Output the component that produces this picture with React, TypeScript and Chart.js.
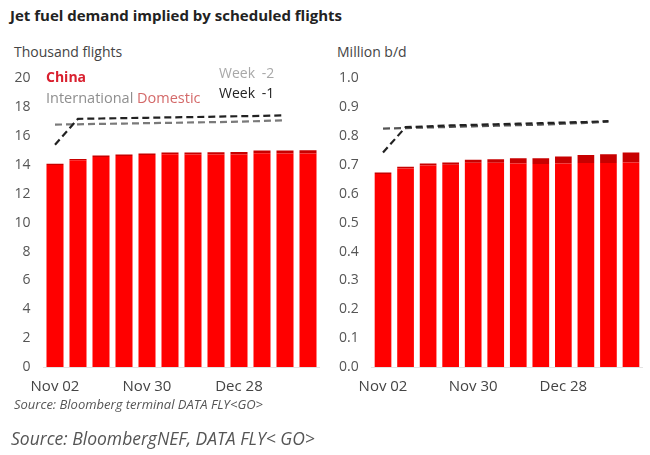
import React, { useEffect, useRef } from "react";
import { Chart, registerables } from "chart.js";

Chart.register(...registerables);

const categories = ["Nov 02", "Nov 09", "Nov 16", "Nov 23", "Nov 30", "Dec 07", "Dec 14", "Dec 21", "Dec 28", "Jan 04", "Jan 11", "Jan 18"];
const shownTicks = ["Nov 02", "Nov 30", "Dec 28"];

// Left panel: thousand flights
const flightsDomestic = [14.0, 14.33, 14.56, 14.63, 14.69, 14.74, 14.72, 14.73, 14.73, 14.81, 14.8, 14.8];
const flightsInternational = [0.08, 0.09, 0.1, 0.1, 0.11, 0.12, 0.14, 0.16, 0.17, 0.19, 0.2, 0.22];
const flightsWeekMinus1 = [15.4, 17.2, 17.22, 17.25, 17.27, 17.3, 17.32, 17.35, 17.38, 17.4, 17.45, null];
const flightsWeekMinus2 = [16.8, 16.82, 16.85, 16.87, 16.9, 16.92, 16.95, 16.97, 17.0, 17.05, 17.1, null];

// Right panel: million b/d
const fuelDomestic = [0.669, 0.688, 0.698, 0.701, 0.708, 0.708, 0.705, 0.703, 0.705, 0.707, 0.707, 0.709];
const fuelInternational = [0.005, 0.006, 0.007, 0.008, 0.01, 0.012, 0.018, 0.02, 0.024, 0.028, 0.03, 0.034];
const fuelWeekMinus1 = [0.743, 0.831, 0.834, 0.837, 0.839, 0.841, 0.843, 0.845, 0.847, 0.849, 0.852, null];
const fuelWeekMinus2 = [0.826, 0.828, 0.83, 0.832, 0.834, 0.836, 0.838, 0.84, 0.843, 0.846, 0.85, null];

const FONT = "'Open Sans', sans-serif";
const RED = "#ff0000";
const DARK_RED = "#c80000";

type PanelProps = {
  domestic: number[];
  international: number[];
  w1: (number | null)[];
  w2: (number | null)[];
  w2Color: string;
  max: number;
  step: number;
  decimals: number;
  yWidth: number;
  padTop: number;
  padRight: number;
  style: React.CSSProperties;
};

function Panel(p: PanelProps) {
  const ref = useRef<HTMLCanvasElement>(null);
  useEffect(() => {
    if (!ref.current) return;
    const chart = new Chart(ref.current, {
      type: "bar",
      data: {
        labels: categories,
        datasets: [
          { type: "line", label: "Week -1", data: p.w1 as any, borderColor: "#222", borderWidth: 2.2, borderDash: [7, 4], pointRadius: 0, fill: false, order: 0 },
          { type: "line", label: "Week -2", data: p.w2 as any, borderColor: p.w2Color, borderWidth: 2.2, borderDash: [7, 4], pointRadius: 0, fill: false, order: 0 },
          { type: "bar", label: "Domestic", data: p.domestic, backgroundColor: RED, stack: "bars", order: 1, categoryPercentage: 1, barPercentage: 0.74 },
          { type: "bar", label: "International", data: p.international, backgroundColor: DARK_RED, stack: "bars", order: 1, categoryPercentage: 1, barPercentage: 0.74 },
        ],
      },
      options: {
        animation: false,
        responsive: false,
        maintainAspectRatio: false,
        layout: { padding: { top: p.padTop, right: p.padRight, left: 0, bottom: 0 } },
        plugins: { legend: { display: false }, tooltip: { enabled: false } },
        scales: {
          x: {
            grid: { display: false, drawTicks: false },
            border: { display: true, color: "#e2e2e2", width: 1 },
            ticks: {
              autoSkip: false,
              maxRotation: 0,
              padding: 11,
              color: "#444",
              font: { family: FONT, size: 15 },
              callback: (_v: any, i: number) => (shownTicks.includes(categories[i]) ? categories[i] : ""),
            },
            afterFit: (s: any) => { s.height = 33; },
          },
          y: {
            min: 0,
            max: p.max,
            grid: { display: false, drawTicks: false },
            border: { display: false },
            ticks: {
              stepSize: p.step,
              padding: 13,
              color: "#555",
              font: { family: FONT, size: 14 },
              callback: (v: any) => Number(v).toFixed(p.decimals),
            },
            afterFit: (s: any) => { s.width = p.yWidth; },
          },
        },
      },
    });
    return () => chart.destroy();
  }, []);
  return <canvas ref={ref} width={325} height={343} style={{ position: "absolute", ...p.style }} />;
}

const txt = (s: React.CSSProperties): React.CSSProperties => ({
  position: "absolute",
  fontFamily: FONT,
  whiteSpace: "nowrap",
  lineHeight: "20px",
  ...s,
});

export default function App() {
  return (
    <div style={{ position: "fixed", left: 0, top: 0, width: 650, height: 455, background: "#fff", overflow: "hidden" }}>
      <div style={txt({ left: 10, top: 5, fontSize: 15, fontWeight: 700, color: "#222" })}>Jet fuel demand implied by scheduled flights</div>
      <div style={txt({ left: 14, top: 42, fontSize: 14, color: "#444" })}>Thousand flights</div>
      <div style={txt({ left: 337, top: 42, fontSize: 14, color: "#444" })}>Million b/d</div>

      <Panel domestic={flightsDomestic} international={flightsInternational} w1={flightsWeekMinus1} w2={flightsWeekMinus2} w2Color="#7a7a7a"
        max={20} step={2} decimals={0} yWidth={43.5} padTop={20} padRight={5.5} style={{ left: 0, top: 57 }} />
      <Panel domestic={fuelDomestic} international={fuelInternational} w1={fuelWeekMinus1} w2={fuelWeekMinus2} w2Color="#555"
        max={1.0} step={0.1} decimals={1} yWidth={46.75} padTop={18} padRight={7.75} style={{ left: 325, top: 57 }} />

      <div style={txt({ left: 46, top: 67, fontSize: 14, fontWeight: 700, color: "#d9202f" })}>China</div>
      <div style={txt({ left: 46, top: 88, fontSize: 14.5, color: "#8f8f8f" })}>International <span style={{ color: "#d46a6a" }}>Domestic</span></div>
      <div style={txt({ left: 219, top: 63, fontSize: 14, color: "#a8a8a8", wordSpacing: 3 })}>Week -2</div>
      <div style={txt({ left: 219, top: 83, fontSize: 14, color: "#222", wordSpacing: 3 })}>Week -1</div>

      <div style={txt({ left: 14, top: 394, fontSize: 13, fontStyle: "italic", color: "#555" })}>Source: Bloomberg terminal DATA FLY&lt;GO&gt;</div>
      <div style={txt({ left: 11, top: 428, fontSize: 17.5, fontStyle: "italic", color: "#555" })}>Source: BloombergNEF, DATA FLY&lt; GO&gt;</div>
    </div>
  );
}
